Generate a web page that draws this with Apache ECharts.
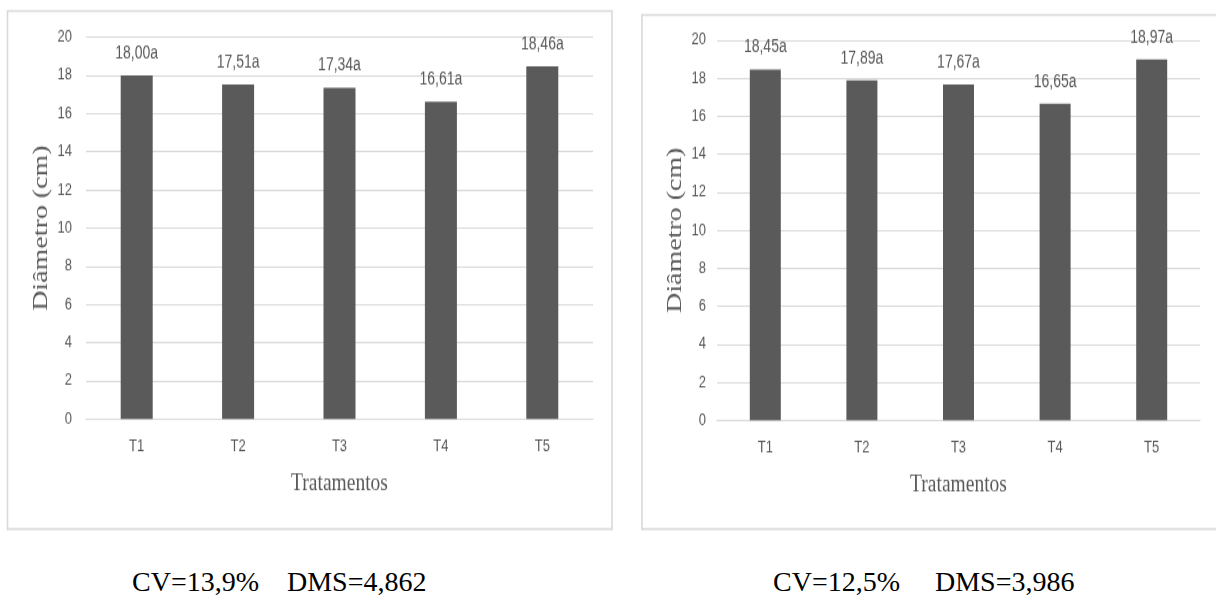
<!DOCTYPE html>
<html>
<head>
<meta charset="utf-8">
<script src="https://cdn.jsdelivr.net/npm/echarts@6/dist/echarts.min.js"></script>
<style>
  html, body { margin: 0; padding: 0; background: #ffffff; }
  body { width: 1216px; height: 597px; position: relative; overflow: hidden; }
  /* charts are drawn compact and stretched vertically */
  #charts {
    position: absolute; left: 0; top: 0;
    width: 1216px; height: 410px;
    transform: scaleY(1.3); transform-origin: 0 0;
  }
  .stat {
    position: absolute; top: 568px;
    font-family: "Liberation Serif", "Times New Roman", serif;
    font-size: 28px; line-height: 28px; color: #000; white-space: nowrap;
  }
</style>
</head>
<body>
<div id="charts"></div>
<span class="stat" id="cvL" style="left:132px"></span>
<span class="stat" id="dmsL" style="left:287px"></span>
<span class="stat" id="cvR" style="left:773px"></span>
<span class="stat" id="dmsR" style="left:935px"></span>
<script>
// Treatments on the x axis
const categories = ['T1', 'T2', 'T3', 'T4', 'T5'];
// Mean diameter (cm) per treatment, first and second evaluation
const diameterA = [18.00, 17.51, 17.34, 16.61, 18.46];
const diameterB = [18.45, 17.89, 17.67, 16.65, 18.97];
// Statistics printed under each chart
const statsA = ['CV=13,9%', 'DMS=4,862'];
const statsB = ['CV=12,5%', 'DMS=3,986'];
// Value axis range
const yMin = 0, yMax = 20, yStep = 2;

document.getElementById('cvL').textContent = statsA[0];
document.getElementById('dmsL').textContent = statsA[1];
document.getElementById('cvR').textContent = statsB[0];
document.getElementById('dmsR').textContent = statsB[1];

const gray = '#595959';
const light = '#d9d9d9';
const sans = '"Liberation Sans", Arial, sans-serif';
const serif = '"Liberation Serif", "Times New Roman", serif';

function fmt(v) { return v.toFixed(2).replace('.', ',') + 'a'; }

function xAxis(idx) {
  return {
    type: 'category', gridIndex: idx, data: categories,
    axisLine: { show: true, lineStyle: { color: light, width: 1 } },
    axisTick: { show: false },
    axisLabel: { color: gray, fontFamily: sans, fontSize: 13, margin: 15 },
    name: 'Tratamentos', nameLocation: 'middle', nameGap: 40,
    nameTextStyle: { color: gray, fontFamily: serif, fontSize: 19.5 }
  };
}
function yAxis(idx, labelMargin, nameGap) {
  return {
    type: 'value', gridIndex: idx, min: yMin, max: yMax, interval: yStep,
    axisLine: { show: false }, axisTick: { show: false },
    splitLine: { lineStyle: { color: light, width: 1 } },
    axisLabel: { color: gray, fontFamily: sans, fontSize: 13, margin: labelMargin },
    name: 'Diâmetro (cm)', nameLocation: 'middle', nameRotate: 90, nameGap: nameGap,
    nameTextStyle: { color: gray, fontFamily: serif, fontSize: 21.5 }
  };
}
function bars(idx, data, width) {
  return {
    type: 'bar', xAxisIndex: idx, yAxisIndex: idx, data: data, barWidth: width,
    itemStyle: { color: '#5a5a5a' },
    label: {
      show: true, position: 'top', distance: 10,
      color: gray, fontFamily: sans, fontSize: 14,
      formatter: p => fmt(p.value)
    },
    silent: true
  };
}

const chart = echarts.init(document.getElementById('charts'), null, { renderer: 'canvas' });
chart.setOption({
  animation: false,
  backgroundColor: '#ffffff',
  graphic: [
    { type: 'rect', shape: { x: 7.5, y: 8.5, width: 604.5, height: 398.5 },
      style: { fill: 'none', stroke: light, lineWidth: 1.6 }, z: -1 },
    { type: 'rect', shape: { x: 642, y: 11.5, width: 590, height: 395.5 },
      style: { fill: 'none', stroke: light, lineWidth: 1.6 }, z: -1 }
  ],
  grid: [
    { left: 86, width: 507, top: 28.5, height: 293.8 },
    { left: 717, width: 483, top: 30.8, height: 292.5 }
  ],
  xAxis: [xAxis(0), xAxis(1)],
  yAxis: [yAxis(0, 14, 34), yAxis(1, 11, 31)],
  series: [bars(0, diameterA, 32), bars(1, diameterB, 31)]
});
</script>
</body>
</html>
